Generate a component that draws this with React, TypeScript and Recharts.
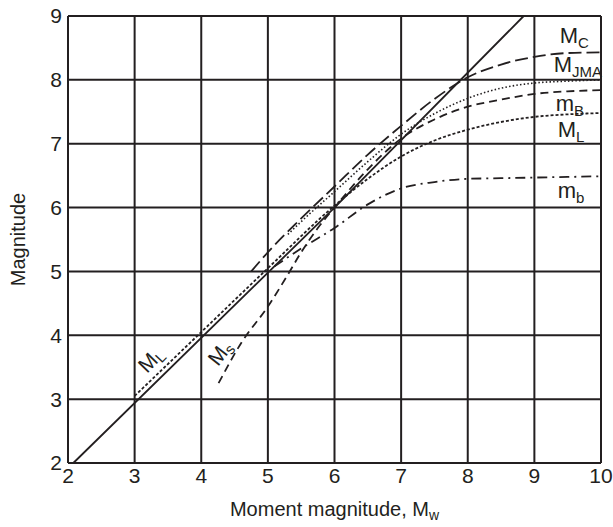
import React from 'react';
import { LineChart, Line, XAxis, YAxis, CartesianGrid, ReferenceDot } from 'recharts';

// axis ticks
const xTicks = [2, 3, 4, 5, 6, 7, 8, 9, 10];
const yTicks = [2, 3, 4, 5, 6, 7, 8, 9];

// Mw 1:1 line
const mwLine = [
  { x: 2.08, y: 2 },
  { x: 6, y: 6 },
  { x: 8.84, y: 9 },
];

// long dash, top curve
const mcCurve = [
  { x: 4.75, y: 5.0 },
  { x: 5, y: 5.3 },
  { x: 5.5, y: 5.83 },
  { x: 6, y: 6.33 },
  { x: 6.5, y: 6.83 },
  { x: 7, y: 7.28 },
  { x: 7.5, y: 7.7 },
  { x: 8, y: 8.04 },
  { x: 8.5, y: 8.24 },
  { x: 9, y: 8.36 },
  { x: 9.5, y: 8.42 },
  { x: 10, y: 8.43 },
];

// fine dotted curve ending near 8
const jmaCurve = [
  { x: 5.3, y: 5.58 },
  { x: 5.5, y: 5.78 },
  { x: 6, y: 6.25 },
  { x: 6.5, y: 6.72 },
  { x: 7, y: 7.15 },
  { x: 7.5, y: 7.47 },
  { x: 8, y: 7.71 },
  { x: 8.5, y: 7.87 },
  { x: 9, y: 7.95 },
  { x: 9.5, y: 7.98 },
  { x: 10, y: 8.0 },
];

// medium dash, Ms
const msCurve = [
  { x: 4.26, y: 3.25 },
  { x: 4.6, y: 3.88 },
  { x: 5, y: 4.45 },
  { x: 5.3, y: 4.95 },
  { x: 5.5, y: 5.3 },
  { x: 5.75, y: 5.68 },
  { x: 6, y: 6.0 },
  { x: 6.5, y: 6.6 },
  { x: 7, y: 7.08 },
  { x: 7.5, y: 7.38 },
  { x: 8, y: 7.58 },
  { x: 8.5, y: 7.69 },
  { x: 9, y: 7.78 },
  { x: 9.5, y: 7.82 },
  { x: 10, y: 7.84 },
];

// short dash, ML
const mlCurve = [
  { x: 3, y: 3.05 },
  { x: 4, y: 4.05 },
  { x: 5, y: 5.05 },
  { x: 6, y: 6.03 },
  { x: 6.5, y: 6.45 },
  { x: 7, y: 6.8 },
  { x: 7.5, y: 7.05 },
  { x: 8, y: 7.22 },
  { x: 8.5, y: 7.34 },
  { x: 9, y: 7.42 },
  { x: 9.5, y: 7.46 },
  { x: 10, y: 7.48 },
];

// dash-dot, mb
const mbCurve = [
  { x: 5.1, y: 5.08 },
  { x: 5.5, y: 5.36 },
  { x: 6, y: 5.68 },
  { x: 6.5, y: 6.05 },
  { x: 7, y: 6.3 },
  { x: 7.5, y: 6.4 },
  { x: 8, y: 6.45 },
  { x: 8.5, y: 6.46 },
  { x: 9, y: 6.47 },
  { x: 9.5, y: 6.48 },
  { x: 10, y: 6.49 },
];

// curve labels: main text, subscript, anchor point, rotation
const curveLabels = [
  { main: 'M', sub: 'C', x: 9.38, y: 8.58, angle: 0 },
  { main: 'M', sub: 'JMA', x: 9.29, y: 8.13, angle: 0 },
  { main: 'm', sub: 'B', x: 9.32, y: 7.51, angle: 0 },
  { main: 'M', sub: 'L', x: 9.35, y: 7.11, angle: 0 },
  { main: 'm', sub: 'b', x: 9.35, y: 6.15, angle: 0 },
  { main: 'M', sub: 'L', x: 3.26, y: 3.6, angle: -46 },
  { main: 'M', sub: 's', x: 4.3, y: 3.71, angle: -52 },
];

const FONT = '"Liberation Sans", Arial, sans-serif';
const INK = '#231f20';

const LabelShape = (props: any) => {
  const { cx, cy, main, sub, angle } = props;
  if (angle) {
    return (
      <text
        x={cx}
        y={cy}
        transform={`rotate(${angle} ${cx} ${cy})`}
        textAnchor="middle"
        dominantBaseline="middle"
        fontFamily={FONT}
        fontSize={21}
        fill={INK}
      >
        {main}
        <tspan fontSize={15} dy={5}>{sub}</tspan>
      </text>
    );
  }
  return (
    <text x={cx} y={cy} fontFamily={FONT} fontSize={22} fill={INK}>
      {main}
      <tspan fontSize={15} dy={5}>{sub}</tspan>
    </text>
  );
};

const XTitle = (props: any) => {
  const vb = props.viewBox || {};
  return (
    <text
      x={vb.x + vb.width / 2}
      y={vb.y + vb.height + 23}
      textAnchor="middle"
      fontFamily={FONT}
      fontSize={20}
      fill={INK}
    >
      Moment magnitude, M
      <tspan fontSize={14} dy={4}>w</tspan>
    </text>
  );
};

const YTitle = (props: any) => {
  const vb = props.viewBox || {};
  const cx = vb.x + 20;
  const cy = vb.y + vb.height / 2;
  return (
    <text
      x={cx}
      y={cy}
      transform={`rotate(-90 ${cx} ${cy})`}
      textAnchor="middle"
      dominantBaseline="middle"
      fontFamily={FONT}
      fontSize={20}
      fill={INK}
    >
      Magnitude
    </text>
  );
};

const App: React.FC = () => {
  const tickStyle = { fontFamily: FONT, fontSize: 21, fill: INK };
  return (
    <div style={{ position: 'absolute', left: 0, top: 0, background: '#fff' }}>
      <LineChart width={613} height={527} margin={{ top: 16, right: 12, bottom: 34, left: 0 }}>
        <CartesianGrid stroke={INK} strokeWidth={2} horizontalValues={yTicks} verticalValues={xTicks} />
        <XAxis
          type="number"
          dataKey="x"
          domain={[2, 10]}
          ticks={xTicks}
          allowDuplicatedCategory={false}
          height={30}
          tickLine={false}
          tickSize={0}
          tickMargin={5}
          axisLine={{ stroke: INK, strokeWidth: 2 }}
          tick={tickStyle}
          label={<XTitle />}
        />
        <YAxis
          type="number"
          dataKey="y"
          domain={[2, 9]}
          ticks={yTicks}
          width={68}
          tickLine={false}
          tickSize={0}
          tickMargin={6}
          axisLine={{ stroke: INK, strokeWidth: 2 }}
          tick={tickStyle}
          label={<YTitle />}
        />
        <Line data={mwLine} dataKey="y" type="linear" stroke={INK} strokeWidth={1.8} dot={false} isAnimationActive={false} />
        <Line data={mcCurve} dataKey="y" type="monotone" stroke={INK} strokeWidth={1.8} strokeDasharray="13 5" dot={false} isAnimationActive={false} />
        <Line data={jmaCurve} dataKey="y" type="monotone" stroke={INK} strokeWidth={1.6} strokeDasharray="1.5 2.2" dot={false} isAnimationActive={false} />
        <Line data={msCurve} dataKey="y" type="monotone" stroke={INK} strokeWidth={1.8} strokeDasharray="8 5" dot={false} isAnimationActive={false} />
        <Line data={mlCurve} dataKey="y" type="monotone" stroke={INK} strokeWidth={1.8} strokeDasharray="3 2" dot={false} isAnimationActive={false} />
        <Line data={mbCurve} dataKey="y" type="monotone" stroke={INK} strokeWidth={1.8} strokeDasharray="10 5 2 5" dot={false} isAnimationActive={false} />
        {curveLabels.map((l, i) => (
          <ReferenceDot
            key={i}
            x={l.x}
            y={l.y}
            ifOverflow="visible"
            shape={(p: any) => <LabelShape {...p} main={l.main} sub={l.sub} angle={l.angle} />}
          />
        ))}
      </LineChart>
    </div>
  );
};

export default App;
